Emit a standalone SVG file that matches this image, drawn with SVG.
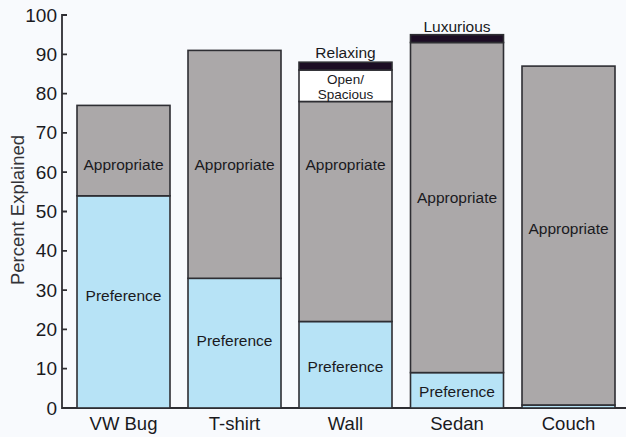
<svg xmlns="http://www.w3.org/2000/svg" width="626" height="437" viewBox="0 0 626 437">
<style>
  .bar { stroke: #2e2e33; stroke-width: 1.6; }
  .app { fill: #aba8a9; }
  .pref { fill: #b7e3f6; }
  .blk { fill: #1c0d24; }
  .wht { fill: #ffffff; }
  .lbl { font-family: "Liberation Sans", Arial, sans-serif; font-size: 15.5px; fill: #1a1a1e; text-anchor: middle; }
  .sm { font-size: 13.5px; }
  .tick { font-family: "Liberation Sans", Arial, sans-serif; font-size: 19px; fill: #1a1a1e; text-anchor: end; }
  .cat { font-family: "Liberation Sans", Arial, sans-serif; font-size: 18.5px; fill: #1a1a1e; text-anchor: middle; }
  .ax { stroke: #2e2e33; stroke-width: 1.8; fill: none; }
</style>
<rect width="626" height="437" fill="#f8fafd"/>

<g id="axes">
  <path class="ax" d="M62,14 V408 H626"/>
  <path class="ax" d="M62,15H67 M62,54.3H67 M62,93.6H67 M62,132.9H67 M62,172.2H67 M62,211.5H67 M62,250.8H67 M62,290.1H67 M62,329.4H67 M62,368.7H67"/>
  <text class="tick" x="57" y="21.5">100</text>
  <text class="tick" x="57" y="60.8">90</text>
  <text class="tick" x="57" y="100.1">80</text>
  <text class="tick" x="57" y="139.4">70</text>
  <text class="tick" x="57" y="178.7">60</text>
  <text class="tick" x="57" y="218">50</text>
  <text class="tick" x="57" y="257.3">40</text>
  <text class="tick" x="57" y="296.6">30</text>
  <text class="tick" x="57" y="335.9">20</text>
  <text class="tick" x="57" y="375.2">10</text>
  <text class="tick" x="57" y="414.5">0</text>
  <text font-family="'Liberation Sans', Arial, sans-serif" font-size="18.5" fill="#333338" text-anchor="middle" transform="translate(24,210) rotate(-90)">Percent Explained</text>
</g>

<g id="vwbug">
  <rect class="bar pref" x="77" y="195.8" width="93" height="212.2"/>
  <rect class="bar app" x="77" y="105.4" width="93" height="90.4"/>
  <text class="lbl" x="123.5" y="169.5">Appropriate</text>
  <text class="lbl" x="123.5" y="300.5">Preference</text>
  <text class="cat" x="123.5" y="430">VW Bug</text>
</g>

<g id="tshirt">
  <rect class="bar pref" x="188" y="278.3" width="93" height="129.7"/>
  <rect class="bar app" x="188" y="50.4" width="93" height="227.9"/>
  <text class="lbl" x="234.5" y="169.5">Appropriate</text>
  <text class="lbl" x="234.5" y="346">Preference</text>
  <text class="cat" x="234.5" y="430">T-shirt</text>
</g>

<g id="wall">
  <rect class="bar pref" x="299" y="321.5" width="93" height="86.5"/>
  <rect class="bar app" x="299" y="101.5" width="93" height="220"/>
  <rect class="bar wht" x="299" y="70" width="93" height="31.5"/>
  <rect class="bar blk" x="299" y="62.2" width="93" height="7.8"/>
  <text class="lbl" x="345.5" y="169.5">Appropriate</text>
  <text class="lbl" x="345.5" y="371.5">Preference</text>
  <text class="lbl sm" x="345.5" y="83.5">Open/</text>
  <text class="lbl sm" x="345.5" y="98.5">Spacious</text>
  <text class="lbl" x="345.5" y="57.5">Relaxing</text>
  <text class="cat" x="345.5" y="430">Wall</text>
</g>

<g id="sedan">
  <rect class="bar pref" x="410.5" y="372.6" width="93" height="35.4"/>
  <rect class="bar app" x="410.5" y="42.5" width="93" height="330.1"/>
  <rect class="bar blk" x="410.5" y="34.7" width="93" height="7.8"/>
  <text class="lbl" x="457" y="202.5">Appropriate</text>
  <text class="lbl" x="457" y="397">Preference</text>
  <text class="lbl" x="457" y="31.5">Luxurious</text>
  <text class="cat" x="457" y="430">Sedan</text>
</g>

<g id="couch">
  <rect class="bar pref" x="522" y="405" width="93" height="3"/>
  <rect class="bar app" x="522" y="66.1" width="93" height="338.9"/>
  <text class="lbl" x="568.5" y="234">Appropriate</text>
  <text class="cat" x="568.5" y="430">Couch</text>
</g>
</svg>
